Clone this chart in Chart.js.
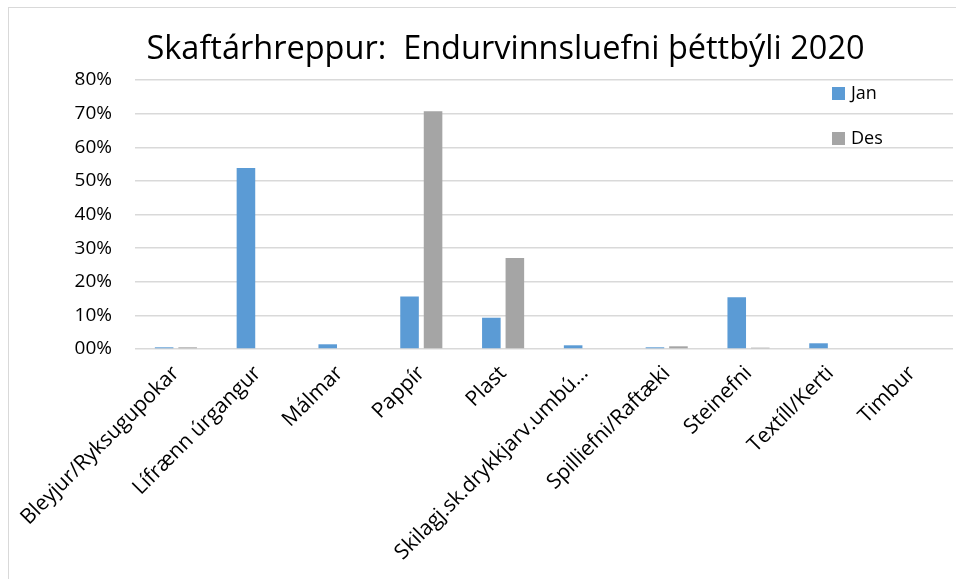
<!DOCTYPE html>
<html>
<head>
<meta charset="utf-8">
<script src="https://cdn.jsdelivr.net/npm/chart.js@4"></script>
<style>
  html, body { margin: 0; padding: 0; background: #fff; overflow: hidden; }
  .frame {
    position: absolute; left: 8px; top: 7px; width: 1000px; height: 700px;
    border-left: 1px solid #d9d9d9; border-top: 1px solid #d9d9d9;
  }
  .wrap { position: absolute; left: 0; top: 0; width: 956px; height: 579px; }
</style>
</head>
<body>
<div class="frame"></div>
<div class="wrap"><canvas id="wasteChart"></canvas></div>
<script>
// Skaftárhreppur - endurvinnsluefni í þéttbýli 2020 (hlutfall, %)
const categories = [
    'Bleyjur/Ryksugupokar',
    'Lífrænn úrgangur',
    'Málmar',
    'Pappír',
    'Plast',
    'Skilagj.sk.drykkjarv.umbú…',
    'Spilliefni/Raftæki',
    'Steinefni',
    'Textíll/Kerti',
    'Timbur'
];
const janValues = [0.5, 53.8, 1.4, 15.6, 9.3, 1.1, 0.5, 15.4, 1.7, 0];
const desValues = [0.5, 0, 0, 70.7, 27.1, 0, 0.8, 0.4, 0, 0];
const yTicks = [0, 10, 20, 30, 40, 50, 60, 70, 80];

const FONT = "'Open Sans', sans-serif";

// Legend drawn inside the plot, top right, like the Excel original
const insideLegend = {
    id: 'insideLegend',
    afterLayout(chart) {
        // Excel centres the title a bit right of the canvas middle
        if (chart.titleBlock) {
            chart.titleBlock.left += 29;
            chart.titleBlock.right += 29;
        }
    },
    afterDatasetsDraw(chart) {
        const ctx = chart.ctx;
        const x = 832;
        ctx.save();
        ctx.font = "18px " + FONT;
        ctx.textBaseline = 'middle';
        chart.data.datasets.forEach((ds, i) => {
            const cy = 94 + i * 45;
            ctx.fillStyle = ds.backgroundColor;
            ctx.fillRect(x, cy - 7, 13, 13);
            ctx.fillStyle = '#000';
            ctx.fillText(ds.label, x + 19, cy);
        });
        ctx.restore();
    }
};

function initChart() {
    const ctx = document.getElementById('wasteChart').getContext('2d');
    new Chart(ctx, {
        type: 'bar',
        data: {
            labels: categories,
            datasets: [
                {
                    label: 'Jan',
                    data: janValues,
                    backgroundColor: '#5b9bd5',
                    categoryPercentage: 0.575,
                    barPercentage: 0.79
                },
                {
                    label: 'Des',
                    data: desValues,
                    backgroundColor: '#a5a5a5',
                    categoryPercentage: 0.575,
                    barPercentage: 0.79
                }
            ]
        },
        options: {
            responsive: true,
            maintainAspectRatio: false,
            animation: false,
            layout: { padding: { left: 0, right: 3, top: 0, bottom: 0 } },
            scales: {
                x: {
                    grid: { display: false },
                    border: { display: false },
                    ticks: {
                        color: '#000',
                        font: { family: FONT, size: 21 },
                        minRotation: 45,
                        maxRotation: 45,
                        autoSkip: false,
                        padding: 4
                    },
                    afterFit(scale) { scale.height = 230; }
                },
                y: {
                    min: 0,
                    max: 80,
                    afterBuildTicks(scale) { scale.ticks = yTicks.map(v => ({ value: v })); },
                    grid: { color: '#d9d9d9', lineWidth: 1.5, drawTicks: false },
                    border: { display: false },
                    ticks: {
                        color: '#000',
                        font: { family: FONT, size: 19 },
                        padding: 23,
                        callback: v => (v < 10 ? '0' + v : v) + '%'
                    },
                    afterFit(scale) { scale.width = 135; }
                }
            },
            plugins: {
                legend: { display: false },
                tooltip: { enabled: false },
                title: {
                    display: true,
                    text: 'Skaftárhreppur:  Endurvinnsluefni þéttbýli 2020',
                    color: '#000',
                    font: { family: FONT, size: 32.5, weight: 'normal', lineHeight: 1.2 },
                    padding: { top: 30, bottom: 11 }
                }
            }
        },
        plugins: [insideLegend]
    });
}

window.onload = () => {
    initChart();
};
</script>
</body>
</html>
